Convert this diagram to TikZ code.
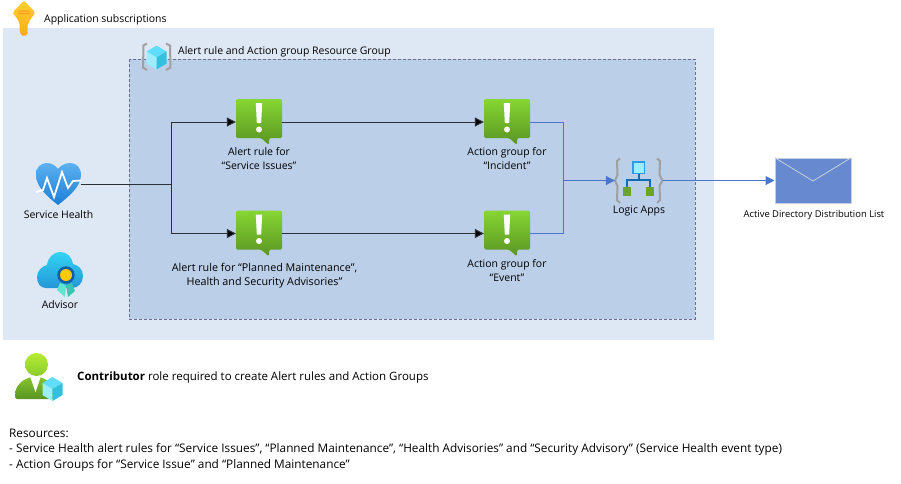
\documentclass[tikz,border=0pt]{standalone}
\usepackage{fontspec}
\setmainfont{Open Sans}
\usetikzlibrary{arrows.meta}
\definecolor{outerbg}{HTML}{DEE8F5}
\definecolor{innerbg}{HTML}{BBCFE8}
\definecolor{flowblue}{HTML}{4A76CC}
\definecolor{flowdark}{HTML}{2B2F36}
\definecolor{bracketgray}{HTML}{A0A0A0}
\definecolor{alerttop}{HTML}{86D633}
\definecolor{alertbot}{HTML}{5A9422}
\definecolor{cubetop}{HTML}{5FDDFB}
\definecolor{cubeleft}{HTML}{9CEEFF}
\definecolor{cuberight}{HTML}{35BFDF}
\definecolor{envfill}{HTML}{6789CF}
\definecolor{envedge}{HTML}{C6CFDE}
\definecolor{hearttop}{HTML}{5CB0EF}
\definecolor{heartbot}{HTML}{1B7FD8}
\definecolor{cloudtop}{HTML}{32D4F5}
\definecolor{cloudbot}{HTML}{2496D6}
\definecolor{ribbonA}{HTML}{5EE4CF}
\definecolor{ribbonB}{HTML}{3CC4B4}
\definecolor{rosette}{HTML}{0F5FA8}
\definecolor{goldc}{HTML}{FFC90E}
\definecolor{keytop}{HTML}{FFD12E}
\definecolor{keybot}{HTML}{FFA81A}
\definecolor{keyslot}{HTML}{F79A1E}
\definecolor{logicblue}{HTML}{0F6DB8}
\definecolor{logicbox}{HTML}{2E9BE8}
\definecolor{logicgreen}{HTML}{6AA52A}
\definecolor{headtop}{HTML}{B4EC36}
\definecolor{headbot}{HTML}{8CCB2C}
\definecolor{bodytop}{HTML}{86C42E}
\definecolor{bodybot}{HTML}{5A9422}
\newcommand\lblfont[1]{\fontsize{#1}{14}\selectfont}
\tikzset{
  lbl/.style={inner sep=0pt,align=center,font=\lblfont{10.45},text=black},
  lblleft/.style={inner sep=0pt,anchor=west,font=\lblfont{10.45},text=black},
  darkflow/.style={draw=flowdark,line width=1pt},
  blueflow/.style={draw=flowblue,line width=1pt},
  tipdark/.style={-{Triangle[length=9pt,width=9pt,fill=black]}},
  tipblue/.style={-{Triangle[length=9pt,width=9pt,fill=flowblue]},draw=flowblue},
  cubeicon/.pic={
    \fill[cubetop] (0,-12)--(10,-6)--(0,0)--(-10,-6)--cycle;
    \fill[cubeleft] (-10,-6)--(0,0)--(0,12)--(-10,6)--cycle;
    \fill[cuberight] (10,-6)--(0,0)--(0,12)--(10,6)--cycle;
  },
  alerticon/.pic={
    \shade[top color=alerttop,bottom color=alertbot,rounded corners=1.5pt]
      (-23,-23)--(23,-23)--(23,16)--(10,16)--(10,23)--(2,16)--(-23,16)--cycle;
    \fill[white] (-3.2,-19)--(3.2,-19)--(2.2,1)--(-2.2,1)--cycle;
    \fill[white] (0,7.5) circle[radius=3];
  }
}
\begin{document}
\begin{tikzpicture}[x=1pt,y=-1pt]
\useasboundingbox (0,0) rectangle (901,483);
\fill[white] (0,0) rectangle (901,483);
% panels
\fill[outerbg] (3,28) rectangle (714,340);
\draw[fill=innerbg,draw=gray!85!blue,densely dashed,line width=.6pt] (129,59) rectangle (695,319);

% key
\shade[top color=keytop,bottom color=keybot,rounded corners=2pt] (24,0.5)--(35.5,12.5)--(28.5,22)--(28.5,25)--(26.5,27)--(28.5,29)--(26.5,31)--(28.5,33)--(24,37)--(19.5,33)--(19.5,22)--(12.5,12.5)--cycle;
\fill[keyslot] (18,10.5) rectangle (30,11.5) (18,13) rectangle (30,14);
\node[lblleft] (t1) at (44,20) {Application subscriptions};

% resource group icon
\draw[bracketgray,line width=2pt] (147,43.5)--(143.5,45.5)--(143,67.5)--(147,70);
\draw[bracketgray,line width=2pt] (166,43.5)--(170,45.5)--(170.5,67.5)--(166,70);
\pic at (156.5,57.5) {cubeicon};
\node[lblleft] (t2) at (178,51.5) {Alert rule and Action group Resource Group};

% service health
\node[inner sep=0pt,minimum width=45pt,minimum height=42pt] (sh) at (58.5,184) {};
\shade[top color=hearttop,bottom color=heartbot]
  (58,205) .. controls (48,197) and (36,187) .. (36,175)
  .. controls (36,167) and (41,163) .. (47,163)
  .. controls (52,163) and (56,166) .. (58,169)
  .. controls (60,166) and (65,163) .. (70,163)
  .. controls (76,163) and (81,167) .. (81,175)
  .. controls (81,187) and (68,197) .. (58,205) -- cycle;
\draw[white,line width=1.8pt,line join=miter] (36,192)--(43,190)--(47,178)--(54,197)--(62,172)--(68,188)--(73,181)--(81,180.5);
\node[lbl] (shl) at (58.5,214.5) {Service Health};

% advisor
\shade[top color=cloudtop,bottom color=cloudbot]
  (46,288) .. controls (40,288) and (37,283) .. (37,277)
  .. controls (37,271) and (42,266) .. (47,265)
  .. controls (48,257) and (54,252) .. (60,252)
  .. controls (67,252) and (72,257) .. (73,264)
  .. controls (79,265) and (83,270) .. (83,276)
  .. controls (83,283) and (78,288) .. (72,288) -- cycle;
\fill[ribbonA] (60,283)--(66,285)--(65,297)--(57,290)--cycle;
\fill[ribbonB] (66,285)--(72,283)--(75,291)--(68,297)--cycle;
\fill[rosette] (66,275) circle[radius=8.7];
\fill[goldc] (66,275) circle[radius=6];
\node[lbl] (adl) at (60,304.5) {Advisor};

% alerts
\node[inner sep=0pt,minimum width=46pt,minimum height=46pt] (a1) at (259,122) {};
\node[inner sep=0pt,minimum width=46pt,minimum height=46pt] (a2) at (259,233.5) {};
\node[inner sep=0pt,minimum width=46pt,minimum height=46pt] (g1) at (507,122) {};
\node[inner sep=0pt,minimum width=46pt,minimum height=46pt] (g2) at (507,233.5) {};
\pic at (a1) {alerticon};
\pic at (a2) {alerticon};
\pic at (g1) {alerticon};
\pic at (g2) {alerticon};
\node[lbl] (a1l) at (259,159) {Alert rule for\\“Service Issues”};
\node[lbl,font=\lblfont{10.75}] (a2l) at (264.5,275.5) {Alert rule for “Planned Maintenance”,\\Health and Security Advisories”};
\node[lbl] (g1l) at (507,159) {Action group for\\“Incident”};
\node[lbl] (g2l) at (507,270.5) {Action group for\\“Event”};

% logic apps
\node[inner sep=0pt,minimum width=48pt,minimum height=45pt] (la) at (639,180.5) {};
\draw[bracketgray,line width=2pt] (620,158.5)--(617,161)--(617.5,175)--(615,180.5)--(617.5,186)--(617,200)--(620,203);
\draw[bracketgray,line width=2pt] (657,158.5)--(660,161)--(659.5,175)--(662.5,180.5)--(659.5,186)--(660,200)--(657,203);
\draw[logicbox,line width=1.8pt,fill=cubeleft] (633,162) rectangle (644.5,173.5);
\draw[logicblue,line width=2pt] (638.5,174)--(638.5,180) (627,187)--(627,180)--(650,180)--(650,187);
\fill[logicgreen] (623,187) rectangle (631,196);
\fill[logicgreen] (646,187) rectangle (654,196);
\node[lbl] (lal) at (639,210.5) {Logic Apps};

% envelope
\node[draw=envedge,fill=envfill,line width=1pt,inner sep=0pt,minimum width=76pt,minimum height=45pt] (ml) at (813,180.5) {};
\draw[envedge,line width=.8pt] (ml.north west)--(813,181)--(ml.north east);
\node[lbl,font=\lblfont{9.4}] (mll) at (814,215) {Active Directory Distribution List};

% connectors
\coordinate (j1) at (171,184);
\coordinate (j2) at (563,180.5);
\draw[darkflow] (sh.east)--(j1);
\draw[darkflow,tipdark] (j1)|-(a1.west);
\draw[darkflow,tipdark] (j1)|-(a2.west);
\draw[darkflow,tipdark] (a1.east)--(g1.west);
\draw[darkflow,tipdark] (a2.east)--(g2.west);
\draw[blueflow] (g1.east)-|(j2);
\draw[blueflow] (g2.east)-|(j2);
\draw[blueflow,tipblue] (j2)--(la.west);
\draw[blueflow,tipblue] (la.east)--(ml.west);

% contributor
\shade[top color=bodytop,bottom color=bodybot,rounded corners=2pt] (15,399)--(16,388)--(22,381)--(30,377)--(41,377)--(48,381)--(54,388)--(55,399)--cycle;
\fill[white] (30,376)--(41,376)--(35.5,392)--cycle;
\shade[top color=headtop,bottom color=headbot] (36.5,364.5) circle[radius=11.5];
\pic at (52.5,389) {cubeicon};
\node[lblleft,font=\lblfont{11.5}] (ct) at (77,377.5) {\textbf{Contributor} role required to create Alert rules and Action Groups};
\node[lblleft,font=\lblfont{11.8}] (r1) at (9,433.5) {Resources:};
\node[lblleft,font=\lblfont{11.8}] (r2) at (9,449.5) {- Service Health alert rules for “Service Issues”, “Planned Maintenance”, “Health Advisories” and “Security Advisory” (Service Health event type)};
\node[lblleft,font=\lblfont{11.8}] (r3) at (9,465.5) {- Action Groups for “Service Issue” and “Planned Maintenance”};
\end{tikzpicture}
\end{document}
